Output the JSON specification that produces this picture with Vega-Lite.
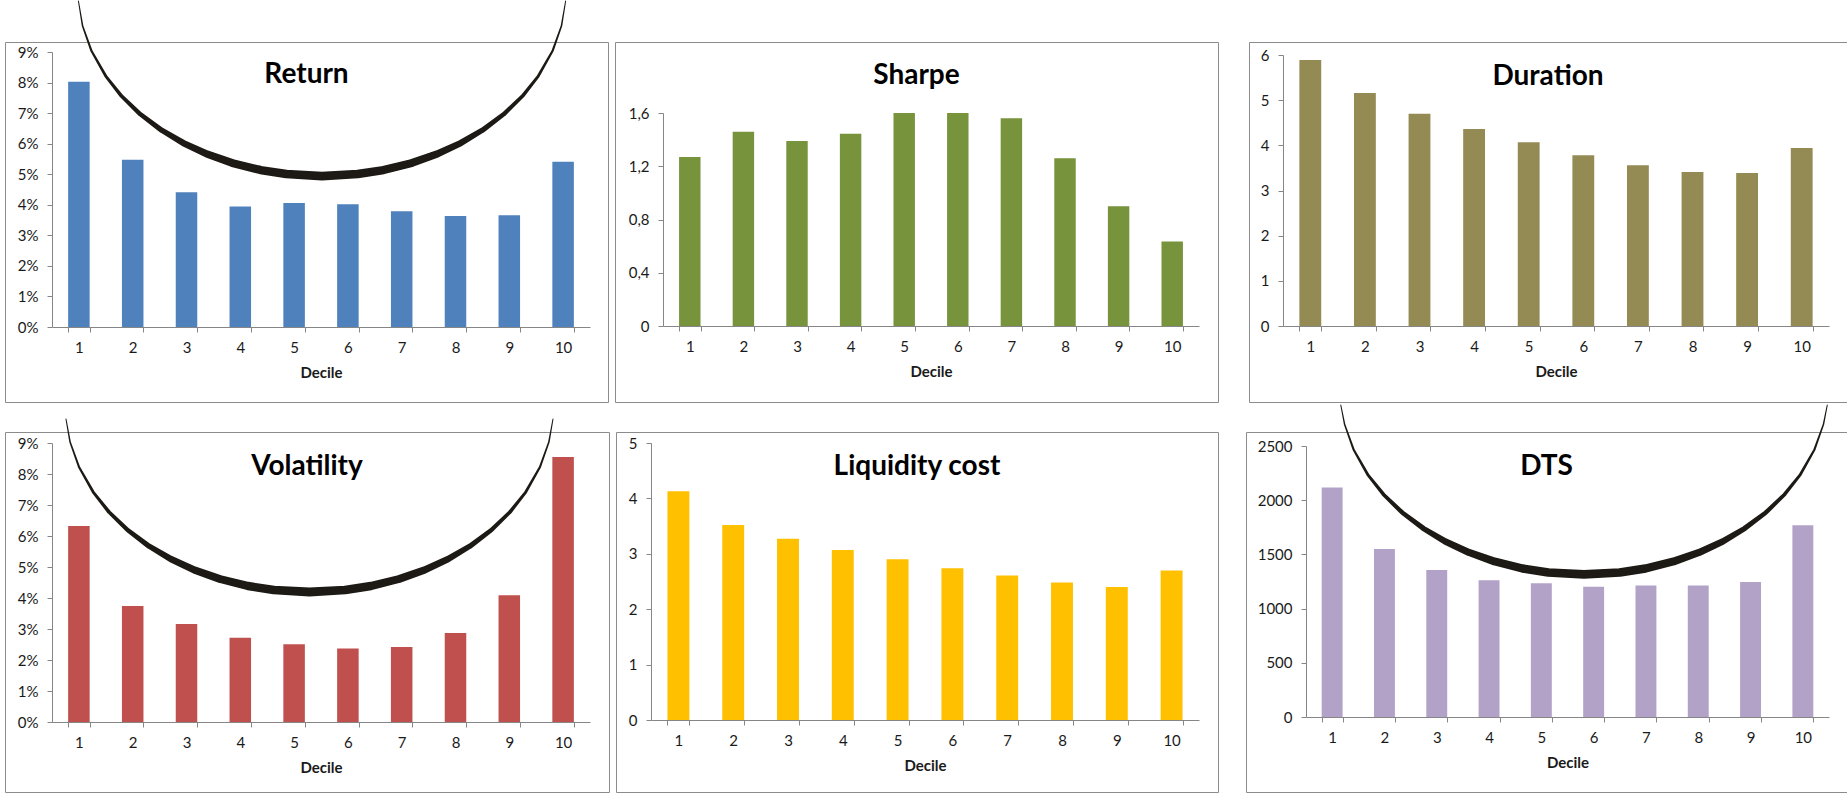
{
  "$schema": "https://vega.github.io/schema/vega-lite/v6.json",
  "background": "white",
  "padding": {"left": 4, "top": 0, "right": 0, "bottom": 0},
  "autosize": {"type": "pad"},
  "bounds": "full",
  "spacing": 1,
  "resolve": {"scale": {"size": "independent"}, "legend": {"size": "independent"}},
  "vconcat": [
    {
      "bounds": "full",
      "spacing": 29,
      "resolve": {"scale": {"size": "independent"}, "legend": {"size": "independent"}},
      "hconcat": [
        {
          "bounds": "full",
          "spacing": 5,
          "resolve": {"scale": {"size": "independent"}, "legend": {"size": "independent"}},
          "hconcat": [
            {
              "width": 603, "height": 360,
              "title": {"text": "Return", "offset": -341},
              "layer": [
                {
                  "data": {"values": [
                    {"decile": 1, "value": 0.0803}, {"decile": 2, "value": 0.0547}, {"decile": 3, "value": 0.0441},
                    {"decile": 4, "value": 0.0394}, {"decile": 5, "value": 0.0406}, {"decile": 6, "value": 0.0402},
                    {"decile": 7, "value": 0.0379}, {"decile": 8, "value": 0.0363}, {"decile": 9, "value": 0.0366},
                    {"decile": 10, "value": 0.0541}
                  ]},
                  "mark": {"type": "bar", "color": "#4F81BD"},
                  "encoding": {
                    "x": {"field": "decile", "type": "ordinal", "scale": {"range": [47, 585], "paddingInner": 0.6, "paddingOuter": 0.3}, "axis": {"title": "Decile", "offset": -75}},
                    "y": {"field": "value", "type": "quantitative", "scale": {"domain": [0, 0.09], "range": [285, 10], "nice": false}, "axis": {"title": null, "offset": -47, "values": [0, 0.01, 0.02, 0.03, 0.04, 0.05, 0.06, 0.07, 0.08, 0.09], "format": ".0%"}}
                  }
                },
                {
                  "data": {"values": [
                    {"x": 0.991, "y": 0.10668}, {"x": 1.069, "y": 0.09849}, {"x": 1.235, "y": 0.09031}, {"x": 1.499, "y": 0.08213},
                    {"x": 1.792, "y": 0.07559}, {"x": 2.138, "y": 0.0697}, {"x": 2.534, "y": 0.06446}, {"x": 2.941, "y": 0.06021},
                    {"x": 3.38, "y": 0.05661}, {"x": 3.854, "y": 0.05366}, {"x": 4.376, "y": 0.05137}, {"x": 4.855, "y": 0.05007},
                    {"x": 5.519, "y": 0.04941},
                    {"x": 6.183, "y": 0.05007}, {"x": 6.662, "y": 0.05137}, {"x": 7.184, "y": 0.05366}, {"x": 7.658, "y": 0.05661},
                    {"x": 8.097, "y": 0.06021}, {"x": 8.504, "y": 0.06446}, {"x": 8.9, "y": 0.0697}, {"x": 9.246, "y": 0.07559},
                    {"x": 9.539, "y": 0.08213}, {"x": 9.803, "y": 0.09031}, {"x": 9.969, "y": 0.09849}, {"x": 10.047, "y": 0.10668}
                  ]},
                  "mark": {"type": "trail", "color": "#1d1a15", "clip": false},
                  "encoding": {
                    "x": {"field": "x", "type": "quantitative", "scale": {"domain": [0.5, 10.5], "range": [47, 585], "nice": false, "zero": false}, "axis": null},
                    "y": {"field": "y", "type": "quantitative", "scale": {"domain": [0, 0.09], "range": [285, 10], "nice": false}, "axis": {"title": null, "offset": -47, "values": [0, 0.01, 0.02, 0.03, 0.04, 0.05, 0.06, 0.07, 0.08, 0.09], "format": ".0%"}},
                    "size": {"field": "y", "type": "quantitative", "scale": {"domain": [0.04941, 0.05432, 0.06577, 0.08213, 0.10668], "range": [8.8, 7.8, 5.0, 2.8, 1], "zero": false}, "legend": null}
                  }
                }
              ],
              "resolve": {"scale": {"x": "independent"}}
            },
            {
              "width": 603, "height": 360,
              "title": {"text": "Sharpe", "offset": -340},
              "data": {"values": [
                {"decile": 1, "value": 1.27}, {"decile": 2, "value": 1.46}, {"decile": 3, "value": 1.39},
                {"decile": 4, "value": 1.445}, {"decile": 5, "value": 1.6}, {"decile": 6, "value": 1.6},
                {"decile": 7, "value": 1.56}, {"decile": 8, "value": 1.26}, {"decile": 9, "value": 0.9},
                {"decile": 10, "value": 0.635}
              ]},
              "mark": {"type": "bar", "color": "#77933C"},
              "encoding": {
                "x": {"field": "decile", "type": "ordinal", "scale": {"range": [48, 584], "paddingInner": 0.6, "paddingOuter": 0.3}, "axis": {"title": "Decile", "offset": -76}},
                "y": {"field": "value", "type": "quantitative", "scale": {"domain": [0, 1.6], "range": [284, 71], "nice": false}, "axis": {"title": null, "offset": -48, "values": [0, 0.4, 0.8, 1.2, 1.6], "labelExpr": "datum.value == 0 ? '0' : replace(format(datum.value, '.1f'), '.', ',')"}}
              }
            }
          ]
        },
        {
          "width": 598, "height": 360,
          "title": {"text": "Duration", "offset": -339},
          "data": {"values": [
            {"decile": 1, "value": 5.89}, {"decile": 2, "value": 5.16}, {"decile": 3, "value": 4.7},
            {"decile": 4, "value": 4.36}, {"decile": 5, "value": 4.07}, {"decile": 6, "value": 3.78},
            {"decile": 7, "value": 3.56}, {"decile": 8, "value": 3.41}, {"decile": 9, "value": 3.39},
            {"decile": 10, "value": 3.94}
          ]},
          "mark": {"type": "bar", "color": "#948A54"},
          "encoding": {
            "x": {"field": "decile", "type": "ordinal", "scale": {"range": [34, 580], "paddingInner": 0.6, "paddingOuter": 0.3}, "axis": {"title": "Decile", "offset": -76}},
            "y": {"field": "value", "type": "quantitative", "scale": {"domain": [0, 6], "range": [284, 13], "nice": false}, "axis": {"title": null, "offset": -34, "values": [0, 1, 2, 3, 4, 5, 6]}}
          }
        }
      ]
    },
    {
      "bounds": "full",
      "spacing": 26,
      "resolve": {"scale": {"size": "independent"}, "legend": {"size": "independent"}},
      "hconcat": [
        {
          "bounds": "full",
          "spacing": 5,
          "resolve": {"scale": {"size": "independent"}, "legend": {"size": "independent"}},
          "hconcat": [
            {
              "width": 604, "height": 360,
              "title": {"text": "Volatility", "offset": -339},
              "layer": [
                {
                  "data": {"values": [
                    {"decile": 1, "value": 0.0632}, {"decile": 2, "value": 0.0374}, {"decile": 3, "value": 0.0316},
                    {"decile": 4, "value": 0.0272}, {"decile": 5, "value": 0.0251}, {"decile": 6, "value": 0.0237},
                    {"decile": 7, "value": 0.0242}, {"decile": 8, "value": 0.0287}, {"decile": 9, "value": 0.0409},
                    {"decile": 10, "value": 0.0855}
                  ]},
                  "mark": {"type": "bar", "color": "#C0504D"},
                  "encoding": {
                    "x": {"field": "decile", "type": "ordinal", "scale": {"range": [47, 585], "paddingInner": 0.6, "paddingOuter": 0.3}, "axis": {"title": "Decile", "offset": -70}},
                    "y": {"field": "value", "type": "quantitative", "scale": {"domain": [0, 0.09], "range": [290, 11], "nice": false}, "axis": {"title": null, "offset": -47, "values": [0, 0.01, 0.02, 0.03, 0.04, 0.05, 0.06, 0.07, 0.08, 0.09], "format": ".0%"}}
                  }
                },
                {
                  "data": {"values": [
                    {"x": 0.76, "y": 0.09774}, {"x": 0.836, "y": 0.09032}, {"x": 1.002, "y": 0.08226}, {"x": 1.266, "y": 0.07419},
                    {"x": 1.559, "y": 0.06774}, {"x": 1.905, "y": 0.06194}, {"x": 2.301, "y": 0.05677}, {"x": 2.708, "y": 0.05258},
                    {"x": 3.147, "y": 0.04903}, {"x": 3.621, "y": 0.04613}, {"x": 4.143, "y": 0.04387}, {"x": 4.622, "y": 0.04258},
                    {"x": 5.286, "y": 0.04194},
                    {"x": 5.95, "y": 0.04258}, {"x": 6.429, "y": 0.04387}, {"x": 6.951, "y": 0.04613}, {"x": 7.425, "y": 0.04903},
                    {"x": 7.864, "y": 0.05258}, {"x": 8.271, "y": 0.05677}, {"x": 8.667, "y": 0.06194}, {"x": 9.013, "y": 0.06774},
                    {"x": 9.306, "y": 0.07419}, {"x": 9.57, "y": 0.08226}, {"x": 9.736, "y": 0.09032}, {"x": 9.812, "y": 0.09774}
                  ]},
                  "mark": {"type": "trail", "color": "#1d1a15", "clip": false},
                  "encoding": {
                    "x": {"field": "x", "type": "quantitative", "scale": {"domain": [0.5, 10.5], "range": [47, 585], "nice": false, "zero": false}, "axis": null},
                    "y": {"field": "y", "type": "quantitative", "scale": {"domain": [0, 0.09], "range": [290, 11], "nice": false}, "axis": {"title": null, "offset": -47, "values": [0, 0.01, 0.02, 0.03, 0.04, 0.05, 0.06, 0.07, 0.08, 0.09], "format": ".0%"}},
                    "size": {"field": "y", "type": "quantitative", "scale": {"domain": [0.04194, 0.04677, 0.05806, 0.07419, 0.09774], "range": [8.8, 7.8, 5.0, 2.8, 1], "zero": false}, "legend": null}
                  }
                }
              ],
              "resolve": {"scale": {"x": "independent"}}
            },
            {
              "width": 602, "height": 360,
              "title": {"text": "Liquidity cost", "offset": -339},
              "data": {"values": [
                {"decile": 1, "value": 4.13}, {"decile": 2, "value": 3.52}, {"decile": 3, "value": 3.27},
                {"decile": 4, "value": 3.07}, {"decile": 5, "value": 2.9}, {"decile": 6, "value": 2.74},
                {"decile": 7, "value": 2.61}, {"decile": 8, "value": 2.48}, {"decile": 9, "value": 2.4},
                {"decile": 10, "value": 2.7}
              ]},
              "mark": {"type": "bar", "color": "#FFC000"},
              "encoding": {
                "x": {"field": "decile", "type": "ordinal", "scale": {"range": [35, 583], "paddingInner": 0.6, "paddingOuter": 0.3}, "axis": {"title": "Decile", "offset": -72}},
                "y": {"field": "value", "type": "quantitative", "scale": {"domain": [0, 5], "range": [288, 11], "nice": false}, "axis": {"title": null, "offset": -35, "values": [0, 1, 2, 3, 4, 5]}}
              }
            }
          ]
        },
        {
          "width": 601, "height": 360,
          "title": {"text": "DTS", "offset": -339},
          "layer": [
            {
              "data": {"values": [
                {"decile": 1, "value": 2117}, {"decile": 2, "value": 1549}, {"decile": 3, "value": 1356},
                {"decile": 4, "value": 1261}, {"decile": 5, "value": 1233}, {"decile": 6, "value": 1202},
                {"decile": 7, "value": 1212}, {"decile": 8, "value": 1212}, {"decile": 9, "value": 1245},
                {"decile": 10, "value": 1770}
              ]},
              "mark": {"type": "bar", "color": "#B2A2C7"},
              "encoding": {
                "x": {"field": "decile", "type": "ordinal", "scale": {"range": [60, 583], "paddingInner": 0.6, "paddingOuter": 0.3}, "axis": {"title": "Decile", "offset": -75}},
                "y": {"field": "value", "type": "quantitative", "scale": {"domain": [0, 2500], "range": [285, 14], "nice": false}, "axis": {"title": null, "offset": -60, "values": [0, 500, 1000, 1500, 2000, 2500], "format": "d"}}
              }
            },
            {
              "data": {"values": [
                {"x": 1.165, "y": 2878}, {"x": 1.239, "y": 2698}, {"x": 1.409, "y": 2468}, {"x": 1.68, "y": 2237},
                {"x": 1.982, "y": 2053}, {"x": 2.338, "y": 1887}, {"x": 2.745, "y": 1739}, {"x": 3.164, "y": 1619},
                {"x": 3.615, "y": 1518}, {"x": 4.103, "y": 1435}, {"x": 4.64, "y": 1370}, {"x": 5.133, "y": 1333},
                {"x": 5.816, "y": 1315},
                {"x": 6.499, "y": 1333}, {"x": 6.992, "y": 1370}, {"x": 7.529, "y": 1435}, {"x": 8.017, "y": 1518},
                {"x": 8.468, "y": 1619}, {"x": 8.887, "y": 1739}, {"x": 9.294, "y": 1887}, {"x": 9.65, "y": 2053},
                {"x": 9.952, "y": 2237}, {"x": 10.223, "y": 2468}, {"x": 10.393, "y": 2698}, {"x": 10.467, "y": 2878}
              ]},
              "mark": {"type": "trail", "color": "#1d1a15", "clip": false},
              "encoding": {
                "x": {"field": "x", "type": "quantitative", "scale": {"domain": [0.5, 10.5], "range": [60, 583], "nice": false, "zero": false}, "axis": null},
                "y": {"field": "y", "type": "quantitative", "scale": {"domain": [0, 2500], "range": [285, 14], "nice": false}, "axis": {"title": null, "offset": -60, "values": [0, 500, 1000, 1500, 2000, 2500], "format": "d"}},
                "size": {"field": "y", "type": "quantitative", "scale": {"domain": [1315, 1453, 1776, 2237, 2878], "range": [8.8, 7.8, 5.0, 2.8, 1], "zero": false}, "legend": null}
              }
            }
          ],
          "resolve": {"scale": {"x": "independent"}}
        }
      ]
    }
  ],
  "config": {
    "font": "Lato",
    "view": {"stroke": "#8c8c8c", "strokeWidth": 1},
    "title": {"font": "Lato", "fontSize": 28, "fontWeight": "bold", "color": "#000000", "orient": "bottom", "anchor": "middle", "frame": "group", "baseline": "top"},
    "axis": {
      "grid": false,
      "labelOverlap": false,
      "domainColor": "#868686", "domainWidth": 1,
      "tickColor": "#868686", "tickWidth": 1, "tickSize": 5,
      "labelFont": "Lato", "labelFontSize": 15, "labelColor": "#1a1a1a",
      "titleFont": "Lato", "titleFontSize": 15, "titleFontWeight": "bold", "titleColor": "#1a1a1a"
    },
    "axisX": {"tickBand": "extent", "labelAngle": 0, "labelPadding": 8, "titlePadding": 10},
    "axisY": {"labelPadding": 9}
  }
}
